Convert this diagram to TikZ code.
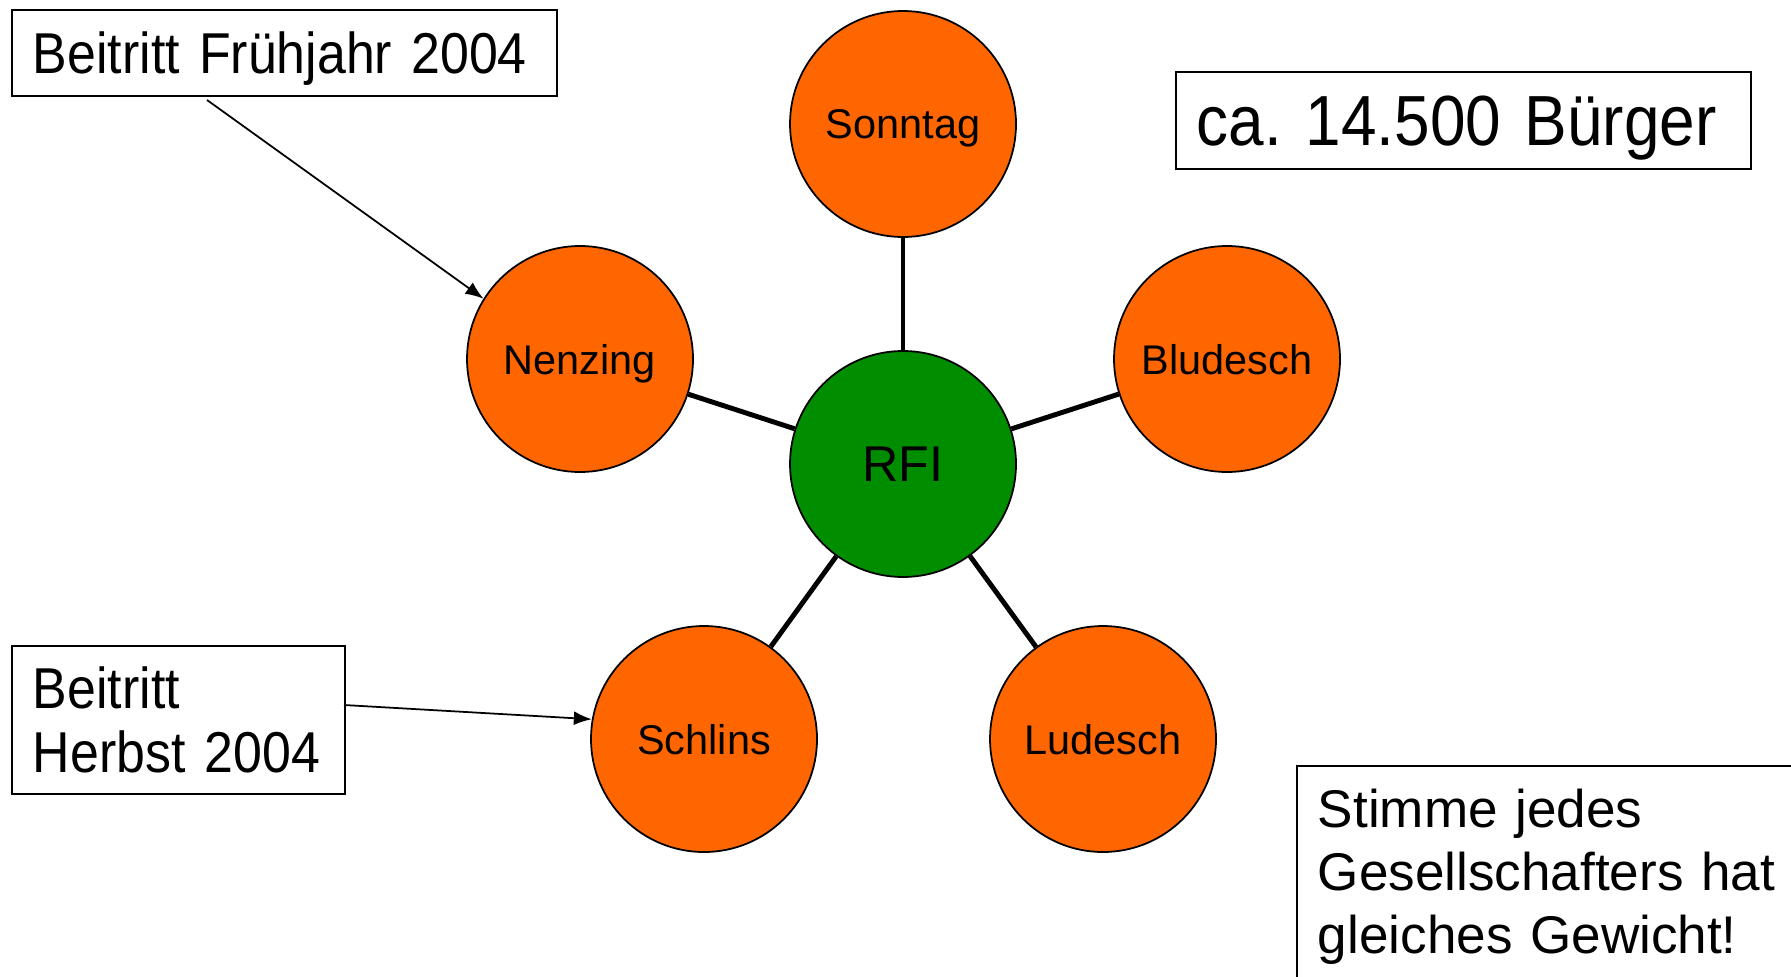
\documentclass[tikz,border=0pt]{standalone}
\usepackage{fontspec}
\usetikzlibrary{arrows.meta}
\setmainfont{Liberation Sans}
\newfontfamily\narrowfont{Liberation Sans}[FakeStretch=0.9,WordSpace=0.8]
\definecolor{rfiorange}{RGB}{255,102,0}
\definecolor{rfigreen}{RGB}{0,142,0}
\frenchspacing

\begin{document}
\begin{tikzpicture}[
	member/.style={draw,circle,minimum size=2.26cm,fill=rfiorange,line width=0.5pt,text depth=0pt,font=\fontsize{11.8}{14}\selectfont},
	infobox/.style={draw,rectangle,anchor=north west,align=left,line width=0.5pt,inner xsep=0.21cm,inner ysep=0pt},
	link/.style={line width=1.4pt},
	note/.style={-{Latex[length=1.8mm,width=1.4mm]},line width=0.5pt}]
			\useasboundingbox (0,0) rectangle (17.91,-9.76);
			\node[draw,circle,minimum size=2.26cm,fill=rfigreen,line width=0.5pt,font=\fontsize{14.3}{17}\selectfont] (rfi) at (9.03,-4.64){RFI};
			\node[member] (son) at (9.03,-1.24){Sonntag};
			\node[member] (nen) at (5.80,-3.59){Nenzing};
			\node[member] (blu) at (12.27,-3.59){Bludesch};
			\node[member] (sch) at (7.04,-7.39){Schlins};
			\node[member] (lud) at (11.03,-7.39){Ludesch};
			\draw (rfi) edge [link] (son); 
			\draw (rfi) edge [link] (nen); 
			\draw (rfi) edge [link] (blu); 
			\draw (rfi) edge [link] (sch); 
			\draw (rfi) edge [link] (lud); 
			% Textfelder
			\node[infobox,text width=5.03cm,minimum height=0.86cm,text depth=0pt,font=\narrowfont\fontsize{16.4}{18.2}\selectfont] (fru) at (0.11,-0.09){Beitritt Frühjahr 2004};
			\node[infobox,text width=5.33cm,minimum height=0.97cm,text depth=0pt,font=\narrowfont\fontsize{20.2}{24}\selectfont] (buer) at (11.75,-0.71){ca. 14.500 Bürger};
			\node[infobox,text width=2.91cm,minimum height=1.48cm,font=\narrowfont\fontsize{16.4}{18.2}\selectfont] (her) at (0.11,-6.45){Beitritt\\Herbst 2004};
			\node[infobox,text width=4.9cm,inner ysep=0.23cm,font=\fontsize{15.1}{17.9}\selectfont] (stim) at (12.96,-7.65){Stimme jedes\\Gesellschafters hat\\gleiches Gewicht!};
			\coordinate (a1) at (2.07,-1.00);
			\coordinate (a2) at (3.44,-7.05);
			\draw (a1) edge [note] (nen.148); 
			\draw (a2) edge [note] (sch.170); 
		\end{tikzpicture}
\end{document}
